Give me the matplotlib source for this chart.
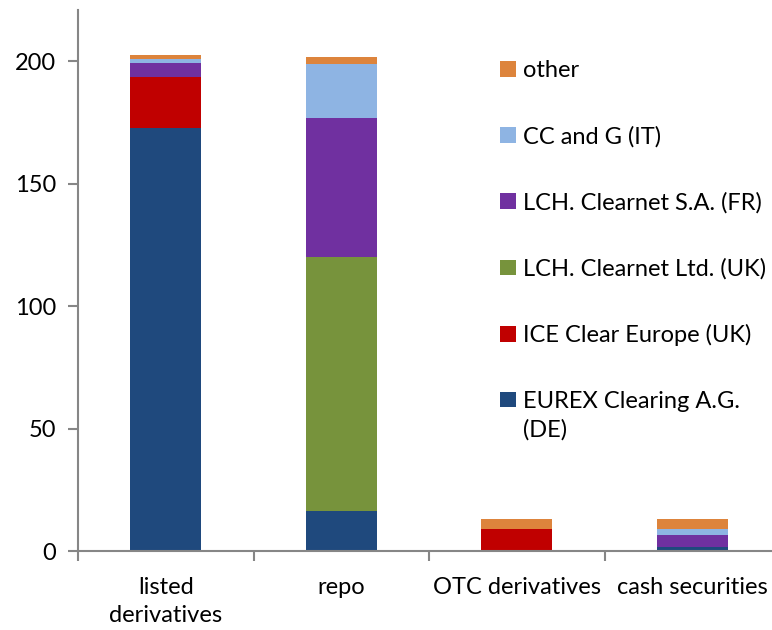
import numpy as np
import matplotlib
matplotlib.use("Agg")
import matplotlib.pyplot as plt

plt.rcParams['font.family'] = ['Lato', 'DejaVu Sans']

# data
categories = ['listed\nderivatives', 'repo', 'OTC derivatives', 'cash securities']
series_names = ['EUREX Clearing A.G.\n(DE)', 'ICE Clear Europe (UK)', 'LCH. Clearnet Ltd. (UK)',
                'LCH. Clearnet S.A. (FR)', 'CC and G (IT)', 'other']
eurex = [173.0, 16.4, 0.0, 1.6]
ice = [20.5, 0.0, 9.0, 0.0]
lch_ltd = [0.0, 103.5, 0.0, 0.0]
lch_sa = [5.7, 56.9, 0.0, 4.9]
ccg = [1.6, 22.1, 0.0, 2.5]
other = [1.7, 2.8, 4.1, 4.1]
colors = ['#1F497D', '#C00000', '#77933C', '#7030A0', '#8EB4E3', '#DD843C']

values = [eurex, ice, lch_ltd, lch_sa, ccg, other]
fs = 17

fig = plt.figure(figsize=(7.72, 6.3), dpi=100)
ax = fig.add_axes([78 / 772, 1 - 551 / 630, 702 / 772, 541 / 630])

x = np.arange(len(categories))
bottom = np.zeros(len(categories))
handles = []
for vals, name, col in zip(values, series_names, colors):
    b = ax.bar(x, vals, width=0.405, bottom=bottom, color=col, label=name)
    handles.append(b)
    bottom += np.array(vals)

ax.set_xlim(-0.5, 3.5)
ax.set_ylim(0, 221)
ax.set_yticks([0, 50, 100, 150, 200])

axis_col = '#868686'
for s in ['top', 'right']:
    ax.spines[s].set_visible(False)
for s in ['left', 'bottom']:
    ax.spines[s].set_color(axis_col)
    ax.spines[s].set_linewidth(1.5)

ax.tick_params(axis='y', direction='out', length=7, width=1.5, color=axis_col,
               labelsize=fs, pad=9)
# x ticks at category boundaries, labels at centres
ax.set_xticks(np.arange(-0.5, 3.5, 1.0))
ax.set_xticklabels([])
ax.set_xticks(x, minor=True)
ax.set_xticklabels(categories, minor=True, fontsize=fs, linespacing=1.4)
ax.tick_params(axis='x', which='major', direction='out', length=7, width=1.5, color=axis_col)
ax.tick_params(axis='x', which='minor', length=0, pad=19)

leg = ax.legend(handles[::-1], series_names[::-1], loc='upper left',
                bbox_to_anchor=(0.585, 0.929), frameon=False, fontsize=fs,
                handlelength=0.64, handleheight=0.64, handletextpad=0.3,
                labelspacing=1.89, borderpad=0)
for t in leg.get_texts():
    t.set_linespacing(1.4)
# put the square of the two-line entry next to its first line
last = leg.legend_handles[-1]
last.set_y(last.get_y() + 0.7 * fs)

fig.savefig('out.png', dpi=100)
